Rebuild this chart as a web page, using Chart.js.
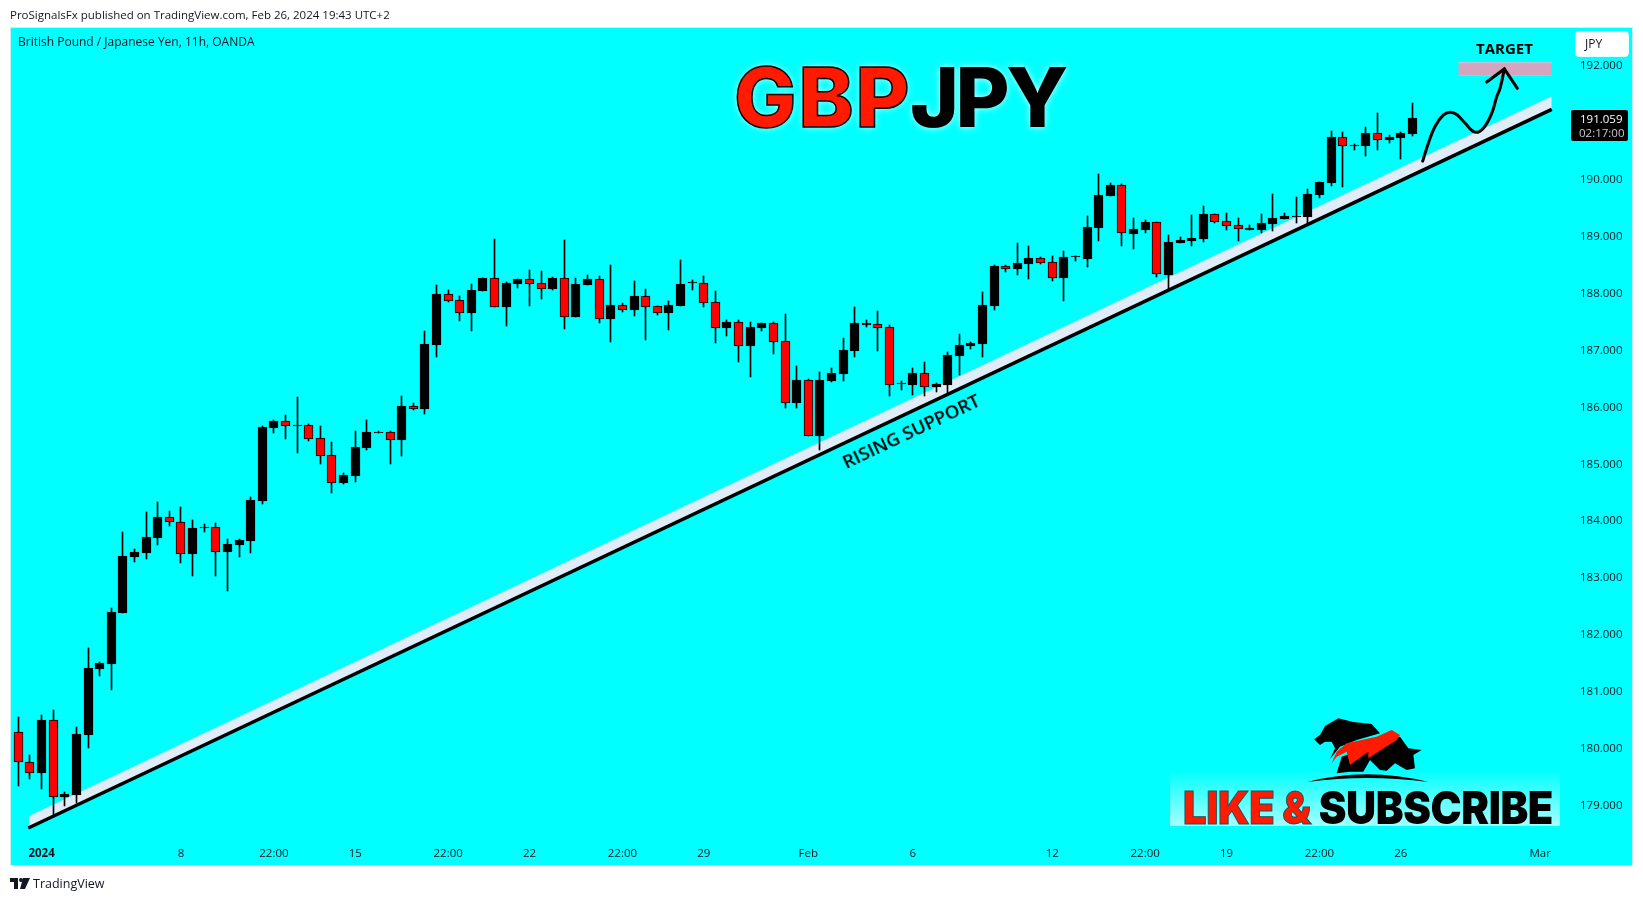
<!DOCTYPE html>
<html>
<head>
<meta charset="utf-8">
<title>GBPJPY</title>
<script src="https://cdn.jsdelivr.net/npm/chart.js@4"></script>
<style>
html, body { margin: 0; padding: 0; width: 1643px; height: 901px; background: #fff; overflow: hidden; font-family: "Open Sans", sans-serif; color: #131722; }
#panel { position: absolute; left: 10px; top: 27px; width: 1621px; height: 837px; background: #00ffff; border: 1px solid #c4f2f4; }
#histChart { position: absolute; left: 0; top: 0; }
.txt { position: absolute; white-space: nowrap; line-height: 1; }
#published { left: 10px; top: 9px; font-size: 11.5px; }
#pairname { left: 18px; top: 36px; font-size: 12px; }
#brand { left: 33px; top: 878px; font-size: 12.5px; }
.title { top: 56px; font-family: Inter, sans-serif; font-weight: 800; font-size: 83px; text-shadow: 0 0 7px rgba(255,255,255,.8); color: #000; }
#titleA { left: 734px; letter-spacing: 2px; color: #ff1a00; -webkit-text-stroke: 1.5px #000; }
#titleB { left: 910px; letter-spacing: -3.5px; }
#target { left: 1476px; top: 41px; font-weight: 700; font-size: 15px; color: #000; }
#support { left: 911px; top: 431px; font-size: 18.5px; font-weight: 600; color: #000; transform: translate(-50%, -50%) rotate(-25.3deg); }
#jpybox { position: absolute; left: 1575px; top: 31px; width: 52px; height: 24px; background: #fff; border: 1px solid #dff; border-radius: 4px; }
#jpy { left: 1585px; top: 38px; font-size: 12px; }
#pricebox { position: absolute; left: 1571px; top: 110px; width: 57px; height: 31px; background: #000; border-radius: 2px; }
#lastprice { left: 1580px; top: 113px; font-size: 11.5px; color: #fff; }
#countdown { left: 1579px; top: 127px; font-size: 11.5px; color: #c8c8c8; }
#glow { position: absolute; left: 1170px; top: 770px; width: 390px; height: 56px; background: linear-gradient(to bottom, rgba(255,255,255,0), rgba(255,255,255,.65)); }
#subscribe { left: 1183px; top: 785px; font-family: Inter, sans-serif; font-weight: 900; font-size: 45px; letter-spacing: -.4px; color: #000; transform: scaleX(.925); transform-origin: left center; }
#subscribe span { color: #ff1a00; -webkit-text-stroke: 1px #0a5a60; }
#logo { position: absolute; left: 1150px; top: 700px; }
#tvmark { position: absolute; left: 10px; top: 878px; }
</style>
</head>
<body>
<div id="panel"></div>
<div id="glow"></div>
<canvas id="histChart" width="1643" height="901"></canvas>

<div class="txt" id="published">ProSignalsFx published on TradingView.com, Feb 26, 2024 19:43 UTC+2</div>
<div class="txt" id="pairname">British Pound / Japanese Yen, 11h, OANDA</div>
<div class="txt title" id="titleA">GBP</div>
<div class="txt title" id="titleB">JPY</div>
<div class="txt" id="target">TARGET</div>
<div class="txt" id="support">RISING SUPPORT</div>
<div id="jpybox"></div>
<div class="txt" id="jpy">JPY</div>
<div id="pricebox"></div>
<div class="txt" id="lastprice">191.059</div>
<div class="txt" id="countdown">02:17:00</div>
<svg id="logo" width="420" height="201" viewBox="0 0 1260 603">
    <path d="M492,118 L510,105 L525,78 L565,55 L610,66 L665,72 L690,100 L620,120 L570,140 L550,165 L540,178 L555,145 L545,125 L525,125 L510,135 Z" fill="#000"/>
    <path d="M575,170 L690,130 L750,110 L775,145 L815,150 L790,165 L795,205 L770,210 L735,190 L710,212 L690,210 L660,180 L640,215 L600,215 L560,220 Z" fill="#000"/>
    <path d="M545,190 L560,155 L590,130 L680,110 L725,90 L750,105 L740,120 L655,175 L655,155 L600,195 L590,155 L560,170 Z" fill="#ff1a00"/>
    <path d="M472,246 Q650,200 835,246 Q650,222 472,246 Z" fill="#000"/>
</svg>
<div class="txt" id="subscribe"><span>LIKE &amp; </span>SUBSCRIBE</div>
<div class="txt" id="brand">TradingView</div>
<svg id="tvmark" width="20" height="12" viewBox="0 0 20 12">
    <path d="M0,0 H8 V11 H4 V4 H0 Z M13,0 H20 L15,11 H10 Z" fill="#131722"/>
    <circle cx="11" cy="2" r="2" fill="#131722"/>
</svg>

<script>
// candles
const openPrices = [
    180.27,179.75,179.55,180.48,179.14,179.17,180.22,181.38,181.47,182.37,
    183.35,183.42,183.69,184.06,183.96,183.41,183.87,183.88,183.44,183.56,
    183.63,184.34,185.62,185.74,185.66,185.67,185.44,185.15,184.65,184.78,
    185.27,185.54,185.55,185.41,186.01,185.95,187.08,187.98,187.87,187.64,
    188.03,188.26,187.75,188.15,188.24,188.17,188.06,188.26,187.57,188.13,
    188.24,187.54,187.78,187.69,187.94,187.76,187.64,187.76,188.16,188.17,
    187.84,187.38,187.48,187.06,187.38,187.47,187.15,186.06,186.46,185.48,
    186.45,186.57,186.97,187.43,187.45,187.40,186.39,186.38,186.59,186.34,
    186.38,186.89,187.06,187.10,187.76,188.47,188.42,188.50,188.61,188.54,
    188.26,188.62,188.59,189.14,189.70,189.89,189.03,189.10,189.24,188.31,
    188.87,188.91,188.94,189.38,189.26,189.19,189.10,189.10,189.21,189.29,
    189.33,189.33,189.72,189.93,190.73,190.58,190.58,190.80,190.68,190.72,
    190.79];
const highPrices = [
    180.54,179.87,180.58,180.66,179.22,180.37,181.75,181.51,182.46,183.79,
    183.49,184.14,184.32,184.16,184.23,184.00,183.93,183.95,183.67,183.67,
    184.41,185.66,185.76,185.85,186.17,185.69,185.66,185.37,184.83,185.57,
    185.76,185.57,185.56,186.18,186.06,187.33,188.13,188.05,187.94,188.15,
    188.26,188.94,188.19,188.24,188.40,188.38,188.27,188.92,188.26,188.31,
    188.29,188.49,187.82,188.20,188.06,187.76,187.85,188.57,188.22,188.29,
    188.03,187.52,187.52,187.48,187.47,187.48,187.62,186.71,186.48,186.61,
    186.68,187.20,187.75,187.52,187.68,187.43,186.45,186.68,186.78,186.41,
    186.96,187.27,187.13,188.01,188.49,188.49,188.87,188.82,188.63,188.64,
    188.73,188.64,189.35,190.08,189.93,189.90,189.31,189.28,189.24,189.01,
    188.98,189.36,189.52,189.38,189.40,189.31,189.19,189.38,189.73,189.40,
    189.68,189.82,189.94,190.84,190.82,190.61,190.91,191.16,190.77,190.82,
    191.33];
const lowPrices = [
    179.32,179.46,179.28,178.82,178.98,179.03,180.00,181.26,181.02,182.37,
    183.27,183.32,183.56,183.90,183.25,183.02,183.79,183.02,182.76,183.35,
    183.42,184.29,185.53,185.43,185.18,185.39,184.99,184.48,184.64,184.67,
    185.23,185.53,184.99,185.13,185.94,185.87,186.87,187.84,187.50,187.33,
    188.03,187.75,187.41,188.08,187.76,187.89,188.05,187.36,187.57,188.13,
    187.47,187.13,187.66,187.59,187.17,187.61,187.34,187.76,188.05,187.75,
    187.11,187.24,186.78,186.52,187.33,186.92,185.97,185.97,185.48,185.23,
    186.43,186.45,186.87,187.40,186.97,186.18,186.29,186.20,186.18,186.25,
    186.24,186.55,187.01,186.87,187.69,188.36,188.31,188.24,188.50,188.20,
    187.85,188.56,188.45,188.91,189.70,188.82,188.77,189.05,188.27,188.05,
    188.87,188.82,188.89,189.22,189.10,188.91,189.10,189.05,189.08,189.29,
    189.22,189.22,189.66,189.87,189.86,190.51,190.40,190.51,190.63,190.35,
    190.75];
const closePrices = [
    179.75,179.55,180.48,179.14,179.19,180.24,181.40,181.49,182.39,183.37,
    183.44,183.70,184.06,183.96,183.41,183.86,183.88,183.44,183.58,183.65,
    184.36,185.64,185.74,185.66,185.67,185.43,185.13,184.66,184.79,185.29,
    185.55,185.55,185.41,186.01,185.95,187.10,187.98,187.85,187.64,188.05,
    188.26,187.75,188.17,188.24,188.15,188.06,188.26,187.57,188.15,188.24,
    187.54,187.78,187.69,187.94,187.75,187.64,187.78,188.15,188.17,187.82,
    187.38,187.48,187.06,187.40,187.47,187.13,186.06,186.46,185.48,186.46,
    186.59,186.99,187.47,187.46,187.38,186.38,186.40,186.59,186.34,186.39,
    186.90,187.08,187.11,187.78,188.47,188.42,188.52,188.61,188.52,188.26,
    188.63,188.63,189.15,189.72,189.89,189.04,189.12,189.24,188.32,188.89,
    188.92,188.96,189.38,189.24,189.17,189.12,189.14,189.22,189.31,189.35,
    189.35,189.73,189.94,190.73,190.58,190.59,190.80,190.68,190.73,190.80,
    191.06];

// time axis, x is the candle number
const timeTicks = [2,14,22,29,37,44,52,59,68,77,89,97,104,112,119,131];
const timeLabels = ['2024','8','22:00','15','22:00','22','22:00','29','Feb','6','12','22:00','19','22:00','26','Mar'];

// drawings on the chart
const supportLine = [{x:0.86,y:178.59},{x:132,y:191.22}];
const supportBand = [{x:0.92,y:178.80},{x:132,y:191.45}];
const targetTop = [{x:123.96,y:192.04},{x:132,y:192.04}];
const targetBottom = [{x:123.96,y:191.82},{x:132,y:191.82}];
const pathCurve = [
    {x:120.89,y:190.31},{x:121.37,y:190.62},{x:121.95,y:190.92},{x:122.66,y:191.12},
    {x:123.24,y:191.17},{x:123.82,y:191.13},{x:124.53,y:190.98},{x:125.39,y:190.82},
    {x:126.11,y:190.89},{x:126.83,y:191.15},{x:127.26,y:191.44},{x:127.55,y:191.59},
    {x:127.92,y:191.93}];
const arrowHead = [{x:126.40,y:191.70},{x:127.92,y:191.93},{x:129.04,y:191.59}];

function candleColor(i)
{
    return closePrices[i] < openPrices[i] ? '#ff0000' : '#000000';
}

let wicks = [];
let bodies = [];
for(let i = 0; i < openPrices.length; i++)
{
    wicks.push({x: i, y: [lowPrices[i], highPrices[i]]});
    bodies.push({x: i, y: [Math.min(openPrices[i], closePrices[i]), Math.max(openPrices[i], closePrices[i])]});
}

// keep the thin candles sharp
const snapBars = {
    id: 'snapBars',
    beforeDatasetsDraw(chart) {
        chart.data.datasets.forEach((ds, n) => {
            if(ds.type != 'bar')
                return;
            chart.getDatasetMeta(n).data.forEach(bar => {
                bar.x = Math.floor(bar.x) + 0.5;
                bar.y = Math.round(bar.y);
                bar.base = Math.round(bar.base);
            });
        });
    }
};

function lineSet(data, extra)
{
    return Object.assign({type: 'line', data: data, pointRadius: 0, borderColor: '#000', borderWidth: 3, tension: 0}, extra);
}

const tvFont = '"Open Sans", sans-serif';

const chart = new Chart(document.getElementById('histChart'), {
    data: {
        datasets: [
            lineSet(targetTop, {borderColor: '#e2bcd2', borderWidth: 1, fill: '+1', backgroundColor: '#d4a5bf', order: 7}),
            lineSet(targetBottom, {borderColor: '#e2bcd2', borderWidth: 1, order: 7}),
            lineSet(supportBand, {borderWidth: 0, fill: '+1', backgroundColor: '#e0edf8', order: 6}),
            lineSet(supportLine, {borderWidth: 3.5, order: 5}),
            {type: 'bar', data: wicks, barThickness: 1, backgroundColor: '#000', order: 3},
            {type: 'bar', data: bodies, barThickness: 9, minBarLength: 1,
                backgroundColor: ctx => candleColor(ctx.dataIndex), borderColor: '#000', borderWidth: 1, borderSkipped: false, order: 2},
            lineSet(pathCurve, {tension: 0.4, borderCapStyle: 'round', order: 1}),
            lineSet(arrowHead, {borderCapStyle: 'round', borderJoinStyle: 'miter', order: 1})
        ]
    },
    options: {
        responsive: false,
        animation: false,
        layout: {padding: {left: 11, top: 28, right: 11, bottom: 36}},
        plugins: {legend: {display: false}, tooltip: {enabled: false}},
        datasets: {bar: {grouped: false}},
        scales: {
            x: {
                type: 'linear',
                offset: false,
                min: -0.63,
                max: 133.14,
                grid: {display: false, offset: false},
                border: {display: false},
                afterBuildTicks: axis => { axis.ticks = timeTicks.map(v => ({value: v})); },
                afterFit: axis => { axis.height = 29; },
                ticks: {
                    autoSkip: false,
                    maxRotation: 0,
                    padding: 3,
                    color: '#131722',
                    font: ctx => ({family: tvFont, size: 11.5, weight: ctx.index == 0 ? 'bold' : 'normal'}),
                    callback: (value, index) => timeLabels[index]
                }
            },
            y: {
                position: 'right',
                min: 178.45,
                max: 192.65,
                grid: {display: false},
                border: {display: false},
                afterFit: axis => { axis.width = 67; },
                ticks: {
                    stepSize: 1,
                    autoSkip: false,
                    includeBounds: false,
                    padding: 7,
                    labelOffset: 1,
                    color: '#131722',
                    font: {family: tvFont, size: 11.5},
                    callback: value => value.toFixed(3)
                }
            }
        }
    },
    plugins: [snapBars]
});
</script>
</body>
</html>
